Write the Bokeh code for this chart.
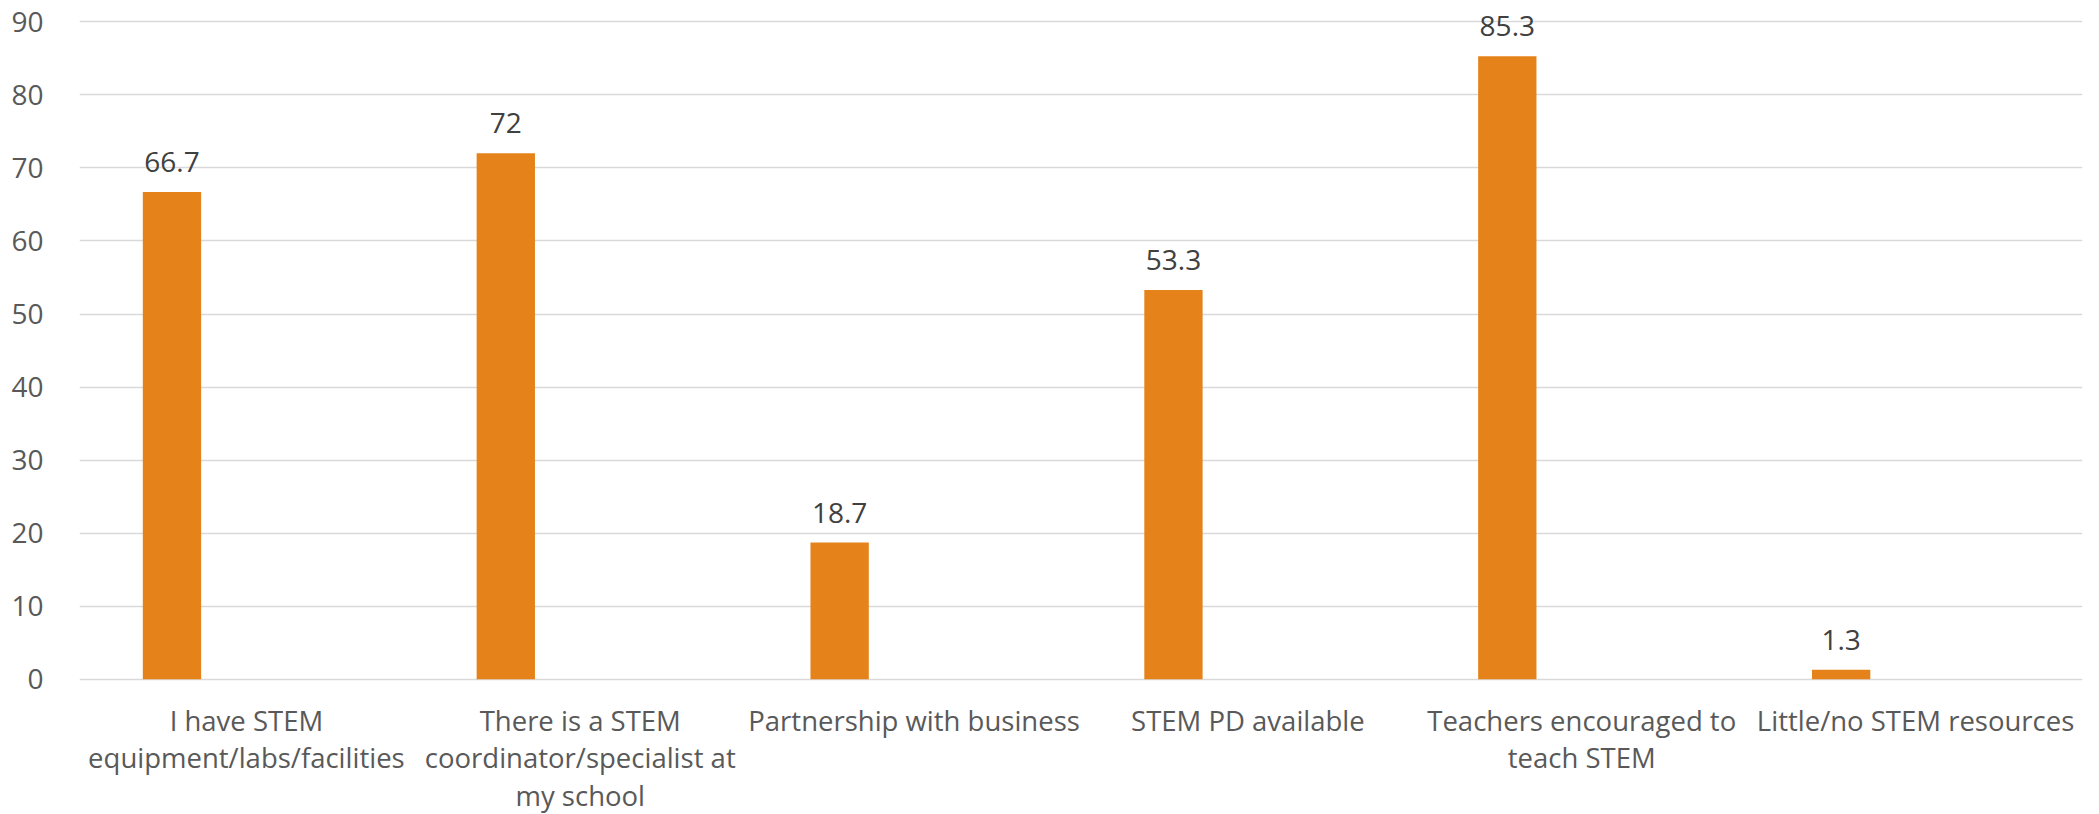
from bokeh.plotting import figure
from bokeh.models import FactorRange, ColumnDataSource, LabelSet, Range1d, FixedTicker
from bokeh.core.properties import value
from bokeh.transform import dodge
from bokeh.embed import file_html
from bokeh.resources import INLINE

categories = [
    "I have STEM equipment/labs/facilities",
    "There is a STEM coordinator/specialist at my school",
    "Partnership with business",
    "STEM PD available",
    "Teachers encouraged to teach STEM",
    "Little/no STEM resources",
]
category_label_lines = [
    ["I have STEM", "equipment/labs/facilities"],
    ["There is a STEM", "coordinator/specialist at", "my school"],
    ["Partnership with business"],
    ["STEM PD available"],
    ["Teachers encouraged to", "teach STEM"],
    ["Little/no STEM resources"],
]
values = [66.7, 72, 18.7, 53.3, 85.3, 1.3]
value_labels = ["66.7", "72", "18.7", "53.3", "85.3", "1.3"]
y_ticks = [0, 10, 20, 30, 40, 50, 60, 70, 80, 90]

FONT = "Open Sans"
BAR = "#E5831A"
AXIS_TEXT = "#595959"

# Frame extends above 90 and below 0 (invisibly) so that the value labels and
# the multi-line category labels can be drawn inside it without clipping.
PX_PER_UNIT = 7.304
FRAME_TOP, ZERO_Y, FRAME_BOTTOM = 2.0, 678.7, 813.0
y_end = (ZERO_Y - FRAME_TOP) / PX_PER_UNIT
y_start = -(FRAME_BOTTOM - ZERO_Y) / PX_PER_UNIT

src = ColumnDataSource(dict(cat=categories, val=values, lab=value_labels))

line_cat, line_txt, line_off = [], [], []
for cat, lines in zip(categories, category_label_lines):
    for i, t in enumerate(lines):
        line_cat.append(cat)
        line_txt.append(t)
        line_off.append(-(52 + 37.2 * i))
cat_src = ColumnDataSource(dict(cat=line_cat, txt=line_txt, off=line_off,
                                y=[0] * len(line_cat)))

p = figure(
    x_range=FactorRange(*categories),
    y_range=Range1d(y_start, y_end),
    frame_width=2003,
    frame_height=int(FRAME_BOTTOM - FRAME_TOP),
    min_border_left=79,
    min_border_top=int(FRAME_TOP),
    min_border_right=8,
    min_border_bottom=0,
    x_axis_location=None,
    output_backend="svg",
    toolbar_location=None,
    background_fill_color="white",
    border_fill_color="white",
    outline_line_color=None,
)

p.vbar(x=dodge("cat", -0.223, range=p.x_range), top="val", width=0.1747,
       source=src, fill_color=BAR, line_color=None)

labels = LabelSet(x=dodge("cat", -0.223, range=p.x_range), y="val", text="lab",
                  source=src, text_align="center", text_baseline="middle",
                  y_offset=30, text_font=value(FONT), text_font_size="28px",
                  text_color="#404040")
p.add_layout(labels)

cat_labels = LabelSet(x="cat", y="y", text="txt", y_offset="off", source=cat_src,
                      text_align="center", text_baseline="alphabetic",
                      text_font=value(FONT), text_font_size="27.5px",
                      text_color=AXIS_TEXT)
p.add_layout(cat_labels)

p.xgrid.grid_line_color = None
p.ygrid.grid_line_color = "#D9D9D9"
p.ygrid.grid_line_width = 1.5
p.yaxis.ticker = FixedTicker(ticks=y_ticks)

ax = p.yaxis[0]
ax.axis_line_color = None
ax.major_tick_line_color = None
ax.minor_tick_line_color = None
ax.major_label_text_font = FONT
ax.major_label_text_color = AXIS_TEXT
ax.major_label_text_font_size = "28px"
ax.major_label_standoff = 30

open("out.html", "w").write(file_html(p, INLINE))
